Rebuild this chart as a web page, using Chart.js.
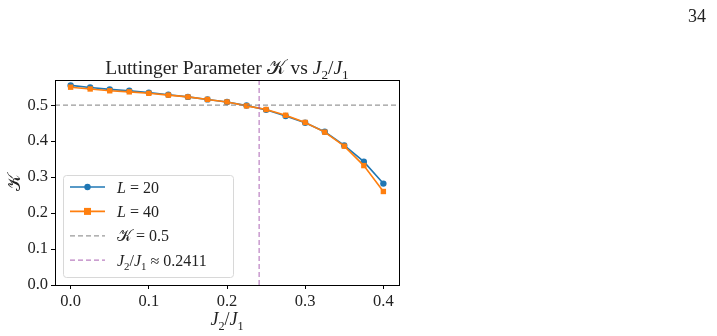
<!DOCTYPE html>
<html>
<head>
<meta charset="utf-8">
<script src="https://cdn.jsdelivr.net/npm/chart.js@4.4.1/dist/chart.umd.min.js"></script>
<style>
  html, body { margin: 0; padding: 0; background: #fff; }
  #wrap { width: 717px; height: 336px; }
</style>
</head>
<body>
<div id="wrap"><canvas id="kChart" width="717" height="336"></canvas></div>
<script>
// values
const ratios = [0, 0.025, 0.05, 0.075, 0.1, 0.125, 0.15, 0.175, 0.2, 0.225, 0.25, 0.275, 0.3, 0.325, 0.35, 0.375, 0.4];
const kL20 = [0.555, 0.549, 0.544, 0.540, 0.535, 0.529, 0.523, 0.516, 0.509, 0.499, 0.487, 0.470, 0.451, 0.426, 0.388, 0.343, 0.282];
const kL40 = [0.550, 0.545, 0.540, 0.537, 0.533, 0.528, 0.523, 0.516, 0.509, 0.498, 0.488, 0.472, 0.452, 0.425, 0.386, 0.332, 0.260];
const kRef = 0.5;
const jCrit = 0.2411;
const xTicks = [0, 0.1, 0.2, 0.3, 0.4];
const yTicks = [0, 0.1, 0.2, 0.3, 0.4, 0.5];
const xRange = [-0.02, 0.42];
const yRange = [0, 0.57];

const SERIF = '"Liberation Serif", "DejaVu Serif", serif';
const KCAL = '\u{1D4A6}';
const BLUE = '#1f77b4';
const ORANGE = '#ff7f0e';
const GREY = 'rgba(128,128,128,0.8)';
const PURPLE = 'rgba(150,60,160,0.65)';

// draw text made of pieces: {t, it, sub}
function drawRich(ctx, parts, x, y, size, align) {
    const fontOf = p => (p.it ? 'italic ' : '') + (p.sub ? size * 0.68 : size) + 'px ' + SERIF;
    let total = 0;
    parts.forEach(p => { ctx.font = fontOf(p); total += ctx.measureText(p.t).width; });
    let cx = align === 'center' ? x - total / 2 : x;
    ctx.textBaseline = 'alphabetic';
    ctx.textAlign = 'left';
    parts.forEach(p => {
        ctx.font = fontOf(p);
        ctx.fillText(p.t, cx, p.sub ? y + size * 0.25 : y);
        cx += ctx.measureText(p.t).width;
    });
}

const jLabel = [{t: 'J', it: true}, {t: '2', sub: true}, {t: '/'}, {t: 'J', it: true}, {t: '1', sub: true}];

const legendItems = [
    {color: BLUE, marker: 'circle', parts: [{t: 'L', it: true}, {t: ' = 20'}]},
    {color: ORANGE, marker: 'rect', parts: [{t: 'L', it: true}, {t: ' = 40'}]},
    {color: GREY, dash: [5, 3], parts: [{t: KCAL}, {t: ' = 0.5'}]},
    {color: PURPLE, dash: [5, 3], parts: jLabel.concat([{t: ' \u2248 0.2411'}])}
];

const decor = {
    id: 'decor',
    afterDraw(chart) {
        const ctx = chart.ctx;
        const a = chart.chartArea;
        ctx.save();
        // full frame
        ctx.strokeStyle = '#000';
        ctx.lineWidth = 1;
        ctx.strokeRect(Math.round(a.left) + 0.5, Math.round(a.top) + 0.5, Math.round(a.right - a.left), Math.round(a.bottom - a.top));
        ctx.fillStyle = '#222';
        // title
        drawRich(ctx, [{t: 'Luttinger Parameter '}, {t: KCAL}, {t: ' vs '}].concat(jLabel), (a.left + a.right) / 2, 74, 19.5, 'center');
        // x label
        drawRich(ctx, jLabel, (a.left + a.right) / 2, 325, 18, 'center');
        // y label, rotated
        ctx.save();
        ctx.translate(20, (a.top + a.bottom) / 2);
        ctx.rotate(-Math.PI / 2);
        drawRich(ctx, [{t: KCAL}], 0, 0, 18, 'center');
        ctx.restore();
        // page number
        ctx.font = '18px ' + SERIF;
        ctx.textAlign = 'right';
        ctx.fillText('34', 706, 22);
        // legend box
        const bx = 63, by = 175, bw = 170, bh = 102;
        ctx.fillStyle = 'rgba(255,255,255,0.85)';
        ctx.strokeStyle = '#d8d8d8';
        ctx.beginPath();
        ctx.roundRect(bx + 0.5, by + 0.5, bw, bh, 3);
        ctx.fill();
        ctx.stroke();
        legendItems.forEach((it, i) => {
            const yy = 187 + i * 24.4;
            ctx.strokeStyle = it.color;
            ctx.lineWidth = it.dash ? 1.2 : 1.6;
            ctx.setLineDash(it.dash || []);
            ctx.beginPath();
            ctx.moveTo(70, yy);
            ctx.lineTo(105, yy);
            ctx.stroke();
            ctx.setLineDash([]);
            ctx.fillStyle = it.color;
            if (it.marker === 'circle') {
                ctx.beginPath();
                ctx.arc(87.5, yy, 3.2, 0, Math.PI * 2);
                ctx.fill();
            } else if (it.marker === 'rect') {
                ctx.fillRect(84, yy - 3.5, 7, 7);
            }
            ctx.fillStyle = '#222';
            drawRich(ctx, it.parts, 117, yy + 5.5, 16, 'left');
        });
        ctx.restore();
    }
};

const ctx = document.getElementById('kChart').getContext('2d');
new Chart(ctx, {
    type: 'line',
    data: {
        datasets: [
            {
                label: 'L = 20',
                data: ratios.map((r, i) => ({x: r, y: kL20[i]})),
                borderColor: BLUE,
                backgroundColor: BLUE,
                borderWidth: 1.6,
                pointStyle: 'circle',
                pointRadius: 3.2,
                pointBorderWidth: 0,
                order: 3
            },
            {
                label: 'L = 40',
                data: ratios.map((r, i) => ({x: r, y: kL40[i]})),
                borderColor: ORANGE,
                backgroundColor: ORANGE,
                borderWidth: 1.6,
                pointStyle: 'rect',
                pointRadius: 3.8,
                pointBorderWidth: 0,
                order: 2
            },
            {
                label: 'K = 0.5',
                data: [{x: xRange[0], y: kRef}, {x: xRange[1], y: kRef}],
                borderColor: GREY,
                borderWidth: 1.2,
                borderDash: [5, 3],
                pointRadius: 0,
                order: 1
            },
            {
                label: 'J2/J1 = 0.2411',
                data: [{x: jCrit, y: yRange[0]}, {x: jCrit, y: yRange[1]}],
                borderColor: PURPLE,
                borderWidth: 1.2,
                borderDash: [5, 3],
                pointRadius: 0,
                order: 0
            }
        ]
    },
    options: {
        responsive: false,
        animation: false,
        layout: {padding: {left: 0, top: 80, right: 318, bottom: 0}},
        plugins: {
            legend: {display: false},
            tooltip: {enabled: false},
            title: {display: false}
        },
        elements: {line: {tension: 0}},
        scales: {
            x: {
                type: 'linear',
                min: xRange[0],
                max: xRange[1],
                afterBuildTicks: s => { s.ticks = xTicks.map(v => ({value: v})); },
                afterFit: s => { s.height = 51; },
                grid: {drawOnChartArea: false, drawTicks: true, tickLength: 4, color: '#000', tickColor: '#000'},
                border: {display: true, color: '#000'},
                ticks: {
                    color: '#222',
                    padding: 3,
                    font: {family: SERIF, size: 16.5},
                    callback: v => Number(v).toFixed(1),
                    maxRotation: 0
                }
            },
            y: {
                type: 'linear',
                min: yRange[0],
                max: yRange[1],
                afterBuildTicks: s => { s.ticks = yTicks.map(v => ({value: v})); },
                afterFit: s => { s.width = 55; },
                grid: {drawOnChartArea: false, drawTicks: true, tickLength: 4, color: '#000', tickColor: '#000'},
                border: {display: true, color: '#000'},
                ticks: {
                    color: '#222',
                    padding: 3,
                    font: {family: SERIF, size: 16.5},
                    callback: v => Number(v).toFixed(1)
                }
            }
        }
    },
    plugins: [decor]
});
</script>
</body>
</html>
